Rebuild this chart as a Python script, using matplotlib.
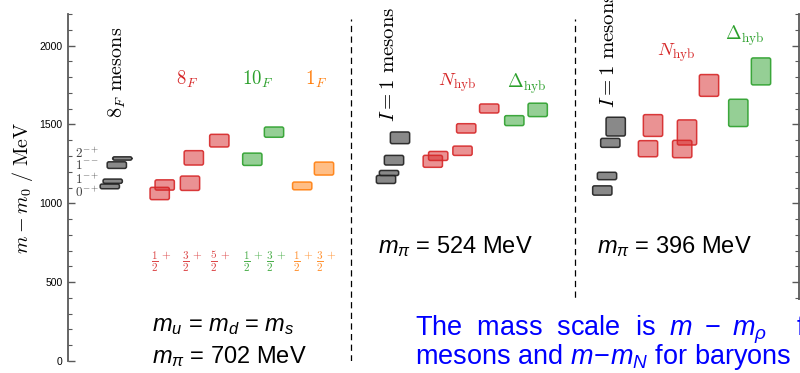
import matplotlib
matplotlib.use("Agg")
import matplotlib.pyplot as plt
from matplotlib.patches import FancyBboxPatch, Rectangle

plt.rcParams['font.family'] = ['Liberation Sans', 'DejaVu Sans']
plt.rcParams['mathtext.fontset'] = 'cm'
plt.rcParams['mathtext.rm'] = 'Liberation Sans'
plt.rcParams['mathtext.it'] = 'Liberation Sans:italic'

# --- spectra: box centre (x slot), mass centre, mass uncertainty band height ---
# m_pi = 702 MeV, flavour-symmetric point
mes702_x = [109.8, 112.7, 116.8, 122.3]
mes702_m = [1107, 1140, 1242, 1284]
mes702_h = [30, 27, 42, 21]
mes702_jpc = ['0^{-+}', '1^{-+}', '1^{--}', '2^{-+}']
mes702_lab_m = [1067, 1149, 1238, 1314]

oct_x = [159.7, 164.7, 190.0, 193.8, 219.3]
oct_m = [1062, 1116, 1127, 1288, 1397]
oct_h = [78, 65, 91, 91, 80]

dec_x = [252.3, 274.0]
dec_m = [1279, 1451]
dec_h = [78, 65]

sing_x = [302.2, 324.0]
sing_m = [1110, 1220]
sing_h = [49, 82]

spin_x = [161.5, 192, 220.5, 253, 276, 303.5, 326]
spin_lab = [r'$\frac{1}{2}^+$', r'$\frac{3}{2}^+$', r'$\frac{5}{2}^+$',
            r'$\frac{1}{2}^+$', r'$\frac{3}{2}^+$',
            r'$\frac{1}{2}^+$', r'$\frac{3}{2}^+$']

# m_pi = 524 MeV
mes524_x = [386.0, 389.0, 394.0, 400.0]
mes524_m = [1151, 1192, 1273, 1415]
mes524_h = [51, 32, 61, 74]

nuc524_x = [432.8, 438.2, 462.5, 466.2, 489.2]
nuc524_m = [1266, 1300, 1333, 1475, 1601]
nuc524_h = [76, 57, 59, 59, 57]

del524_x = [514.3, 537.7]
del524_m = [1524, 1592]
del524_h = [63, 85]

# m_pi = 396 MeV
mes396_x = [602.3, 607.0, 610.3, 615.7]
mes396_m = [1081, 1173, 1383, 1486]
mes396_h = [59, 47, 57, 119]

nuc396_x = [648.0, 653.0, 682.2, 687.0, 709.0]
nuc396_m = [1346, 1493, 1344, 1449, 1747]
nuc396_h = [102, 138, 110, 159, 138]

del396_x = [738.3, 761.0]
del396_m = [1573, 1836]
del396_h = [173, 171]

RED = '#d62728'
GREEN = '#2ca02c'
ORANGE = '#ff7f0e'
BOX_W = 19.3

fig = plt.figure(figsize=(8, 3.73), dpi=100)
ax = fig.add_axes([68 / 800, 12 / 373, 731 / 800, 347 / 373])
ax.set_xlim(68, 799)
ax.set_ylim(0, 2200)

# y-units per x-unit, keeps the corner rounding circular
aspect = 2200 / 347


def boxes(xs, ms, hs, face, edge, alpha=0.5):
    for x, m, h in zip(xs, ms, hs):
        ax.add_patch(FancyBboxPatch((x - BOX_W / 2, m - h / 2), BOX_W, h,
                                    boxstyle='round,pad=0,rounding_size=1.8',
                                    mutation_aspect=aspect,
                                    facecolor=face, edgecolor='none', alpha=alpha))
        # solid outline on top of the translucent fill
        ax.add_patch(FancyBboxPatch((x - BOX_W / 2, m - h / 2), BOX_W, h,
                                    boxstyle='round,pad=0,rounding_size=1.8',
                                    mutation_aspect=aspect,
                                    facecolor='none', edgecolor=edge, alpha=0.9, lw=1.1))


for xs, ms, hs in [(mes702_x, mes702_m, mes702_h),
                   (mes524_x, mes524_m, mes524_h),
                   (mes396_x, mes396_m, mes396_h)]:
    boxes(xs, ms, hs, '0.38', '0.12', alpha=0.75)

boxes(oct_x, oct_m, oct_h, RED, RED)
boxes(dec_x, dec_m, dec_h, GREEN, GREEN)
boxes(sing_x, sing_m, sing_h, ORANGE, ORANGE)
boxes(nuc524_x, nuc524_m, nuc524_h, RED, RED)
boxes(del524_x, del524_m, del524_h, GREEN, GREEN)
boxes(nuc396_x, nuc396_m, nuc396_h, RED, RED)
boxes(del396_x, del396_m, del396_h, GREEN, GREEN)

# J^PC labels next to the octet mesons
for lab, m in zip(mes702_jpc, mes702_lab_m):
    ax.text(75, m, '$' + lab + '$', fontsize=9.5, color='0.25', va='center', ha='left')

# baryon spins under the columns
spin_col = [RED] * 3 + [GREEN] * 2 + [ORANGE] * 2
for x, lab, c in zip(spin_x, spin_lab, spin_col):
    ax.text(x, 629, lab, fontsize=11.5, color=c, alpha=0.85, ha='center', va='center')

# multiplet names
ax.text(187, 1785, r'$\boldsymbol{8}_F$', color=RED, fontsize=13.5, ha='center', va='center')
ax.text(258, 1785, r'$\boldsymbol{10}_F$', color=GREEN, fontsize=13.5, ha='center', va='center')
ax.text(316, 1785, r'$\boldsymbol{1}_F$', color=ORANGE, fontsize=13.5, ha='center', va='center')
ax.text(457, 1765, r'$N_{\rm hyb}$', color=RED, fontsize=13.5, ha='center', va='center')
ax.text(527, 1760, r'$\Delta_{\rm hyb}$', color=GREEN, fontsize=13.5, ha='center', va='center')
ax.text(676, 1955, r'$N_{\rm hyb}$', color=RED, fontsize=13.5, ha='center', va='center')
ax.text(745, 2060, r'$\Delta_{\rm hyb}$', color=GREEN, fontsize=13.5, ha='center', va='center')

ax.text(117, 1543, r'$\boldsymbol{8}_F\ \mathrm{mesons}$', rotation=90, fontsize=14.5,
        ha='center', va='bottom')
ax.text(389, 1517, r'$I=1\ \mathrm{mesons}$', rotation=90, fontsize=15,
        ha='center', va='bottom')
ax.text(609, 1606, r'$I=1\ \mathrm{mesons}$', rotation=90, fontsize=15,
        ha='center', va='bottom', clip_on=False)

# panel separators
for xd in [351.5, 575]:
    ax.plot([xd, xd], [0, 2170], color='k', lw=0.9, ls=(0, (5, 3.5)))

# axes styling
for s in ['top', 'bottom']:
    ax.spines[s].set_visible(False)
for s in ['left', 'right']:
    ax.spines[s].set_color('0.35')
    ax.spines[s].set_linewidth(1.3)
ax.set_xticks([])
ax.set_yticks([0, 500, 1000, 1500, 2000])
ax.set_yticks(range(0, 2201, 100), minor=True)
ax.tick_params(axis='y', which='both', direction='in', left=True, right=True,
               labelleft=True, labelright=False, color='0.35', labelsize=7.5, pad=4)
ax.tick_params(axis='y', which='major', length=5, width=1.0)
ax.tick_params(axis='y', which='minor', length=3, width=0.8)
ax.set_ylabel(r'$m - m_0\ /\ \mathrm{MeV}$', fontsize=14.5, labelpad=3)

# pion masses of each ensemble
sans = dict(fontsize=17, math_fontfamily='custom', va='baseline')
fig.text(378 / 800, 1 - 253 / 373, r'$m_\pi$ = 524 MeV', **sans)
fig.text(597 / 800, 1 - 253 / 373, r'$m_\pi$ = 396 MeV', **sans)
fig.text(152 / 800, 1 - 331 / 373, r'$m_u$ = $m_d$ = $m_s$', **sans)
fig.text(152 / 800, 1 - 363 / 373, r'$m_\pi$ = 702 MeV', **sans)

# slide caption over the lower right
fig.patches.append(Rectangle((405 / 800, 0), 395 / 800, 73 / 373,
                             transform=fig.transFigure, facecolor='white',
                             edgecolor='none', zorder=5))
cap = dict(fontsize=19.5, color='#0000ff', math_fontfamily='custom', va='baseline', zorder=6)
fig.text(415 / 800, 1 - 336 / 373, r'The  mass  scale  is  $m\ -\ m_\rho$    for', **cap)
fig.text(415 / 800, 1 - 364 / 373, r'mesons and $m\!-\!m_N$ for baryons', **cap)

fig.savefig('out.png', dpi=100)
